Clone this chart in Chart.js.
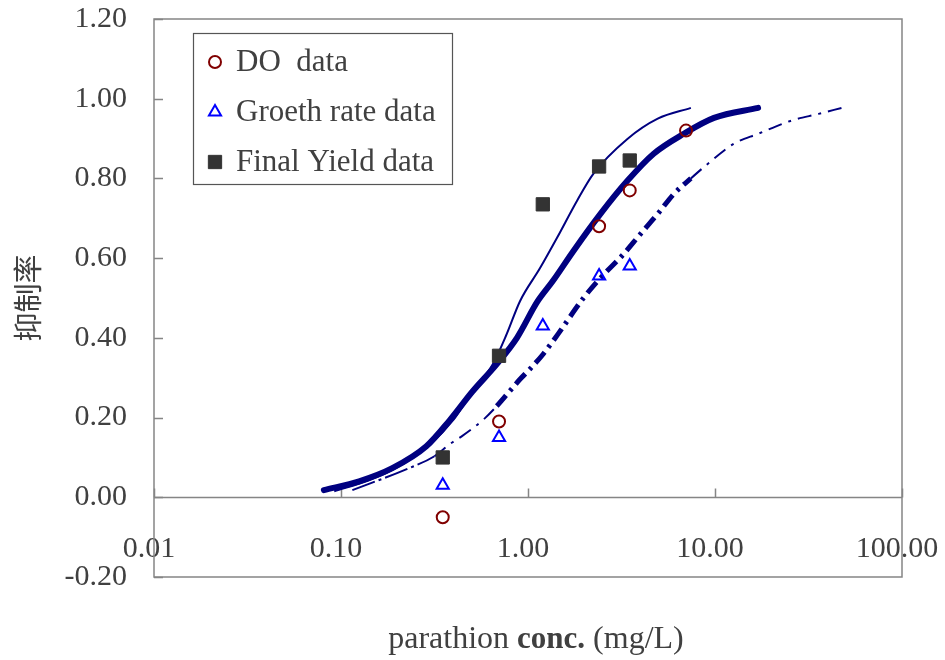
<!DOCTYPE html>
<html><head><meta charset="utf-8">
<script src="https://cdn.jsdelivr.net/npm/chart.js@4.4.0/dist/chart.umd.min.js"></script>
<style>html,body{margin:0;padding:0;background:#fff;}#wrap{width:945px;height:660px;}</style>
</head><body><div id="wrap"><canvas id="c" width="945" height="660"></canvas></div>
<script>
// ---- data ----
const xTickValues = [0.01, 0.1, 1, 10, 100];
const seriesNames = ['DO  data', 'Groeth rate data', 'Final Yield data'];
const xTitleParts = ['parathion ', 'conc.', ' (mg/L)'];
const yTitle = '抑制率';

const doX = [0.35, 0.7, 2.4, 3.5, 7.0];
const doY = [-0.05, 0.19, 0.68, 0.77, 0.92];
const growthX = [0.35, 0.7, 1.2, 2.4, 3.5];
const growthY = [0.03, 0.15, 0.43, 0.555, 0.58];
const yieldX = [0.35, 0.7, 1.2, 2.4, 3.5];
const yieldY = [0.10, 0.355, 0.735, 0.83, 0.845];

const doFitX = [0.081, 0.125, 0.188, 0.286, 0.381, 0.506, 0.681, 0.873, 1.12, 1.36, 1.75, 2.44, 3.40, 4.70, 6.81, 9.88, 17.0];
const doFitY = [0.018, 0.040, 0.073, 0.128, 0.193, 0.266, 0.334, 0.400, 0.490, 0.543, 0.618, 0.711, 0.794, 0.862, 0.912, 0.952, 0.977];
const yieldFitX = [0.092, 0.14, 0.20, 0.30, 0.40, 0.50, 0.648, 0.77, 0.906, 1.16, 1.43, 1.83, 2.24, 3.40, 4.94, 7.43];
const yieldFitY = [0.015, 0.042, 0.075, 0.133, 0.195, 0.262, 0.334, 0.41, 0.492, 0.575, 0.651, 0.744, 0.812, 0.899, 0.95, 0.977];
const growthFitX = [0.115, 0.223, 0.316, 0.381, 0.442, 0.506, 0.587, 0.681, 0.781, 0.906, 1.025, 1.204, 1.45, 1.98, 2.44, 3.24, 4.0, 4.94, 6.02, 7.43, 9.17, 12.6, 17.0, 25.6, 35.8, 47.6];
const growthFitY = [0.018, 0.07, 0.103, 0.133, 0.153, 0.173, 0.198, 0.229, 0.261, 0.296, 0.322, 0.359, 0.41, 0.5, 0.55, 0.61, 0.661, 0.711, 0.761, 0.80, 0.837, 0.887, 0.912, 0.945, 0.962, 0.977];

// ---- styling ----
const NAVY = '#000080';
const TXT = '#404040';
const FRAME = '#858585';
const SERIF = '"Liberation Serif", "DejaVu Serif", serif';
const pts = (xs, ys) => xs.map((x, i) => ({x: x, y: ys[i]}));
const fmt2 = v => (Math.abs(v) < 1e-9 ? 0 : Number(v)).toFixed(2);

const markerStyles = [
  {pointStyle: 'circle', radius: 6, borderColor: '#800000', backgroundColor: 'rgba(0,0,0,0)', borderWidth: 2},
  {pointStyle: 'triangle', radius: 7, borderColor: '#0000FF', backgroundColor: 'rgba(0,0,0,0)', borderWidth: 2},
  {pointStyle: 'rect', radius: 9.4, borderColor: '#333333', backgroundColor: '#333333', borderWidth: 1}
];

function markerDataset(label, xs, ys, st) {
  return {
    label: label, data: pts(xs, ys), showLine: false,
    pointStyle: st.pointStyle, pointRadius: st.radius, pointHoverRadius: st.radius,
    pointBorderColor: st.borderColor, pointBackgroundColor: st.backgroundColor,
    pointBorderWidth: st.borderWidth
  };
}

const isThick = c => c.p0.parsed.x >= 0.67 && c.p1.parsed.x <= 7.5;
const isStart = c => c.p1.parsed.x <= 0.36;

const framePlugin = {
  id: 'frame',
  beforeDatasetsDraw(chart) {
    const {ctx, chartArea: a, scales} = chart;
    const y0 = Math.round(scales.y.getPixelForValue(0)) + 0.5;
    ctx.save();
    ctx.strokeStyle = FRAME; ctx.lineWidth = 1.5;
    ctx.strokeRect(a.left, a.top, a.right - a.left, a.bottom - a.top);
    ctx.beginPath(); ctx.moveTo(a.left, y0); ctx.lineTo(a.right, y0); ctx.stroke();
    ctx.beginPath();
    scales.y.ticks.forEach(t => {
      const py = Math.round(scales.y.getPixelForValue(t.value)) + 0.5;
      ctx.moveTo(a.left, py); ctx.lineTo(a.left + 9, py);
    });
    xTickValues.forEach(v => {
      const px = Math.round(scales.x.getPixelForValue(v)) + 0.5;
      ctx.moveTo(px, y0); ctx.lineTo(px, y0 - 9);
    });
    ctx.stroke();
    ctx.restore();
  },
  afterDraw(chart) {
    const ctx = chart.ctx;
    ctx.save();
    // legend
    const bx = 193, by = 33, bw = 259, bh = 151;
    ctx.fillStyle = '#fff'; ctx.fillRect(bx, by, bw, bh);
    ctx.strokeStyle = '#555'; ctx.lineWidth = 1.2;
    ctx.strokeRect(bx + 0.5, by + 0.5, bw, bh);
    ctx.font = '31px ' + SERIF; ctx.textBaseline = 'middle'; ctx.textAlign = 'left';
    seriesNames.forEach((name, i) => {
      const cy = 62 + i * 50, cx = 215;
      const st = markerStyles[i];
      ctx.lineWidth = st.borderWidth; ctx.strokeStyle = st.borderColor; ctx.fillStyle = st.backgroundColor;
      ctx.beginPath();
      if (st.pointStyle === 'circle') {
        ctx.arc(cx, cy, st.radius, 0, Math.PI * 2);
        ctx.stroke();
      } else if (st.pointStyle === 'triangle') {
        const r = st.radius;
        ctx.moveTo(cx, cy - r);
        ctx.lineTo(cx + r * Math.sin(Math.PI * 2 / 3), cy - r * Math.cos(Math.PI * 2 / 3));
        ctx.lineTo(cx + r * Math.sin(Math.PI * 4 / 3), cy - r * Math.cos(Math.PI * 4 / 3));
        ctx.closePath(); ctx.stroke();
      } else {
        const s = st.radius * Math.SQRT1_2;
        ctx.rect(cx - s, cy - s, 2 * s, 2 * s); ctx.fill(); ctx.stroke();
      }
      ctx.fillStyle = TXT;
      ctx.fillText(name, 236, cy + 1);
    });
    // x title
    const fonts = ['32px ' + SERIF, 'bold 31px ' + SERIF, '32px ' + SERIF];
    let total = 0;
    const widths = xTitleParts.map((p, i) => { ctx.font = fonts[i]; const w = ctx.measureText(p).width; total += w; return w; });
    let x = 536 - total / 2;
    ctx.fillStyle = TXT; ctx.textBaseline = 'middle';
    xTitleParts.forEach((p, i) => { ctx.font = fonts[i]; ctx.fillText(p, x, 640); x += widths[i]; });
    ctx.restore();
  }
};

const datasets = [
  markerDataset(seriesNames[0], doX, doY, markerStyles[0]),
  markerDataset(seriesNames[1], growthX, growthY, markerStyles[1]),
  markerDataset(seriesNames[2], yieldX, yieldY, markerStyles[2]),
  {label: 'DO fit', data: pts(doFitX, doFitY), showLine: true, pointRadius: 0, borderColor: NAVY, borderWidth: 6,
   borderCapStyle: 'round', cubicInterpolationMode: 'monotone'},
  {label: 'Final Yield fit', data: pts(yieldFitX, yieldFitY), showLine: true, pointRadius: 0, borderColor: NAVY, borderWidth: 2,
   cubicInterpolationMode: 'monotone'},
  {label: 'Growth rate fit', data: pts(growthFitX, growthFitY), showLine: true, pointRadius: 0, borderColor: NAVY, borderWidth: 2,
   cubicInterpolationMode: 'monotone',
   segment: {
     borderWidth: c => isThick(c) ? 5 : 2,
     borderDash: c => isThick(c) ? [14, 6, 3, 6] : (isStart(c) ? [24, 4, 3, 4] : [14, 7, 3, 7])
   }}
];

new Chart(document.getElementById('c'), {
  type: 'scatter',
  data: {datasets: datasets},
  options: {
    responsive: false, animation: false, devicePixelRatio: 1,
    layout: {padding: {left: 0, right: 43, top: 19, bottom: 83}},
    plugins: {legend: {display: false}, tooltip: {enabled: false}},
    scales: {
      x: {
        type: 'logarithmic', position: {y: 0}, min: 0.01, max: 100,
        afterBuildTicks: s => { s.ticks = xTickValues.map(v => ({value: v})); },
        afterFit: s => { s.height = 0; s.paddingLeft = 0; s.paddingRight = 0; },
        grid: {display: false, drawTicks: false}, border: {display: false},
        ticks: {autoSkip: false, maxRotation: 0, padding: 34, labelOffset: -5, color: TXT,
          font: {family: SERIF, size: 30}, callback: v => fmt2(v)}
      },
      y: {
        type: 'linear', min: -0.2, max: 1.2,
        afterFit: s => { s.width = 154; s.paddingTop = 0; s.paddingBottom = 0; },
        grid: {display: false, drawTicks: false}, border: {display: false},
        ticks: {stepSize: 0.2, padding: 27, color: TXT, font: {family: SERIF, size: 30},
          callback: v => fmt2(v)},
        title: {display: true, text: yTitle, color: TXT, padding: {top: 11, bottom: 0},
          font: {family: '"Noto Sans CJK TC", "Noto Sans CJK SC", sans-serif', size: 29}}
      }
    }
  },
  plugins: [framePlugin]
});
</script>
</body></html>
